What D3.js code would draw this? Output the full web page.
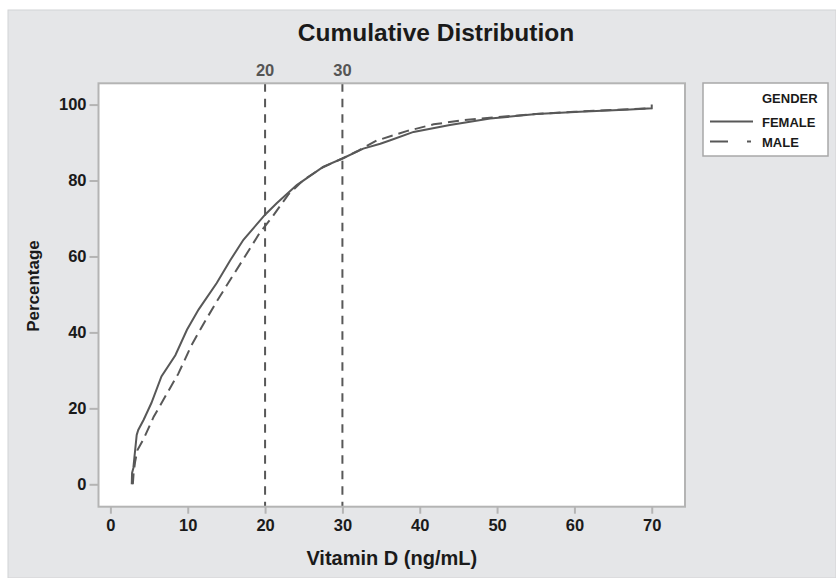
<!DOCTYPE html>
<html><head><meta charset="utf-8">
<script src="https://cdn.jsdelivr.net/npm/d3@7"></script>
<style>html,body{margin:0;padding:0;background:#fff;}svg{display:block;font-family:"Liberation Sans",Arial,sans-serif;}</style>
</head><body>
<svg id="c" width="836" height="578"></svg>
<script>
const chartTitle = "Cumulative Distribution";
const xTitle = "Vitamin D (ng/mL)";
const yTitle = "Percentage";
const xTicks = [0,10,20,30,40,50,60,70];
const yTicks = [0,20,40,60,80,100];
const refLines = [20,30];
const seriesNames = ["FEMALE","MALE"];
const legendTitle = "GENDER";
const femaleX = [2.76,2.8,2.97,3.1,3.2,3.4,3.6,4.3,5.3,6.6,8.4,9.9,11.4,13.75,15.5,17.2,20,21.5,24.1,27.5,30,32.7,34.9,36.2,39.2,43.9,49.1,55.1,60.7,67.2,70,70];
const femaleY = [0,3,4.3,7,9,13,14.3,17,21.4,28.4,34,40.7,46,53,59,64.4,71,74,78.8,83.6,85.8,88.4,89.7,90.6,92.8,94.6,96.3,97.5,98.1,98.7,99,100];
const maleX = [2.9,3.0,3.2,3.5,4.3,5.6,7.2,8.8,10.5,12.2,13.7,15.6,17.5,19.3,21.0,23.0,25.0,27.5,30,31.9,34.4,38.3,41.8,45.7,50,55,60,65,70];
const maleY = [0,3,6,9,12,17.8,23.5,29.2,36.7,42.8,48,54.2,60.3,66.2,70.6,76.3,80.2,83.5,85.8,87.7,90.5,93,94.8,95.9,96.7,97.5,98.1,98.6,99];

const svg = d3.select("#c");
const L=98.5,R=685,T=83.3,B=506.7;
const x = d3.scaleLinear().domain([-1.54,74.3]).range([L,R]);
const y = d3.scaleLinear().domain([-5.9,105.6]).range([B,T]);
const lineCol="#585858", frameCol="#b4b4b4", textCol="#1a1a1a";

svg.append("rect").attr("x",8).attr("y",10).attr("width",828).attr("height",568).attr("fill","#e5e6e8").attr("stroke","#d2d3d5");
svg.append("rect").attr("x",L).attr("y",T).attr("width",R-L).attr("height",B-T).attr("fill","#fff");

svg.append("text").attr("x",436).attr("y",41).attr("text-anchor","middle").attr("font-size",24.5).attr("font-weight","bold").attr("fill",textCol).text(chartTitle);

// axes
const xAxis = d3.axisBottom(x).tickValues(xTicks).tickSize(7).tickPadding(6).tickFormat(d3.format("d"));
const gx = svg.append("g").attr("transform",`translate(0,${B})`).call(xAxis);
const yAxis = d3.axisLeft(y).tickValues(yTicks).tickSize(9).tickPadding(3).tickFormat(d3.format("d"));
const gy = svg.append("g").attr("transform",`translate(${L},0)`).call(yAxis);
[gx,gy].forEach(g=>{
  g.select(".domain").remove();
  g.selectAll(".tick line").attr("stroke",frameCol).attr("stroke-width",2);
  g.selectAll(".tick text").attr("fill",textCol).attr("font-size",16.5).attr("font-weight","bold").attr("font-family","Liberation Sans, Arial, sans-serif");
});
gx.selectAll(".tick text").attr("dy","0.71em");

// reference lines
refLines.forEach(v=>{
  svg.append("line").attr("x1",x(v)).attr("x2",x(v)).attr("y1",T).attr("y2",B)
    .attr("stroke",lineCol).attr("stroke-width",2).attr("stroke-dasharray","8.5,7");
  svg.append("text").attr("x",x(v)).attr("y",76).attr("text-anchor","middle").attr("font-size",16.5).attr("font-weight","bold").attr("fill","#555").text(v);
});

const line = d3.line().x(d=>x(d[0])).y(d=>y(d[1]));
svg.append("path").datum(femaleX.map((v,i)=>[v,femaleY[i]])).attr("d",line).attr("fill","none").attr("stroke",lineCol).attr("stroke-width",2);
svg.append("path").datum(maleX.map((v,i)=>[v,maleY[i]])).attr("d",line).attr("fill","none").attr("stroke",lineCol).attr("stroke-width",2).attr("stroke-dasharray","11,6");

// frame
svg.append("rect").attr("x",L).attr("y",T).attr("width",R-L).attr("height",B-T).attr("fill","none").attr("stroke",frameCol).attr("stroke-width",2);

// titles
svg.append("text").attr("x",(L+R)/2).attr("y",565).attr("text-anchor","middle").attr("font-size",20).attr("font-weight","bold").attr("fill",textCol).text(xTitle);
svg.append("text").attr("transform","translate(39,286) rotate(-90)").attr("text-anchor","middle").attr("font-size",17).attr("font-weight","bold").attr("fill",textCol).text(yTitle);

// legend
const lg = svg.append("g");
lg.append("rect").attr("x",703).attr("y",83).attr("width",125).attr("height",73).attr("fill","#fff").attr("stroke","#a8a8a8").attr("stroke-width",1.5);
lg.append("text").attr("x",762).attr("y",103).attr("font-size",13).attr("font-weight","bold").attr("fill",textCol).text(legendTitle);
const ly=[121.5,141.5];
seriesNames.forEach((n,i)=>{
  lg.append("line").attr("x1",710).attr("x2",753).attr("y1",ly[i]).attr("y2",ly[i]).attr("stroke",lineCol).attr("stroke-width",2)
    .attr("stroke-dasharray", i===1 ? "18,19,4,100" : null);
  lg.append("text").attr("x",762).attr("y",ly[i]+5).attr("font-size",13).attr("font-weight","bold").attr("fill",textCol).text(n);
});
</script>
</body></html>
